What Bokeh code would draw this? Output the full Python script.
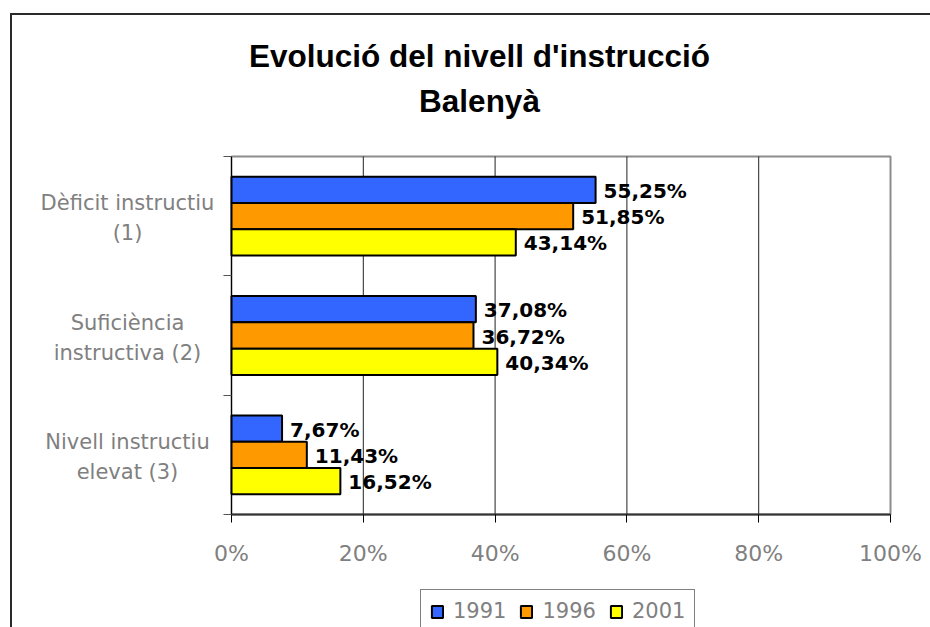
from bokeh.plotting import figure
from bokeh.models import (Range1d, LinearAxis, FixedTicker, BoxAnnotation,
                          ColumnDataSource, Label, LabelSet, Legend, LegendItem)
from bokeh.transform import dodge
from bokeh.core.properties import value
from bokeh.embed import file_html
from bokeh.resources import INLINE

# ---- data ----
categories = ["Dèficit instructiu\n(1)", "Suficiència\ninstructiva (2)", "Nivell instructiu\nelevat (3)"]
years = ["1991", "1996", "2001"]
v1991 = [55.25, 37.08, 7.67]
v1996 = [51.85, 36.72, 11.43]
v2001 = [43.14, 40.34, 16.52]
x_ticks = [0, 20, 40, 60, 80, 100]
title_lines = ["Evolució del nivell d'instrucció", "Balenyà"]

series = [v1991, v1996, v2001]
colors = ["#3366FF", "#FF9900", "#FFFF00"]
GRAY = "#808080"

# ---- layout (pixels) ----
W, H = 930, 627
PL, PR, PT, PB = 231, 890, 156, 514          # plot area edges
n = len(categories)
px_x = (PR - PL) / 100.0                      # px per percent
px_y = (PB - PT) / n                          # px per category band
x_range = Range1d(-PL / px_x, (W - PL) / px_x)
y_range = Range1d(-(H - PB) / px_y, n + PT / px_y)

cat_pos = [n - i - 0.5 for i in range(n)]     # band centres, first category on top
bar_h = 0.22
offsets = [bar_h, 0.0, -bar_h]

p = figure(width=W, height=H, x_range=x_range, y_range=y_range,
           x_axis_type=None, y_axis_type=None,
           output_backend="svg", toolbar_location=None,
           min_border=0, min_border_left=0, min_border_right=0,
           min_border_top=0, min_border_bottom=0,
           border_fill_color=None, background_fill_color=None,
           outline_line_color=None,
           styles={"box-shadow": "inset 10px 13px 0 0 #ffffff, inset 12px 15px 0 0 #2a2a2a"})

# plot-area box (top & right edges visible)
p.add_layout(BoxAnnotation(left=0, right=100, bottom=0, top=n,
                           fill_color="white", fill_alpha=1,
                           line_color="#8c8c8c", line_alpha=1, line_width=2,
                           level="underlay"))

# vertical gridlines inside the plot area
inner_ticks = x_ticks[1:-1]
p.segment(x0=inner_ticks, y0=[0] * len(inner_ticks), x1=inner_ticks, y1=[n] * len(inner_ticks),
          line_color="#222222", line_width=1)

# x axis
xax = LinearAxis(ticker=FixedTicker(ticks=x_ticks), fixed_location=0, bounds=(0, 100),
                 major_label_overrides={t: f"{t}%" for t in x_ticks},
                 major_label_text_font="DejaVu Sans", major_label_text_font_size="22px",
                 major_label_text_color=GRAY, major_label_standoff=18,
                 axis_line_color="#333333", axis_line_width=2,
                 major_tick_line_color="black", major_tick_out=8, major_tick_in=0,
                 minor_tick_line_color=None)
p.add_layout(xax, "below")

# y axis: ticks at band boundaries
yax = LinearAxis(ticker=FixedTicker(ticks=list(range(n + 1))), fixed_location=0, bounds=(0, n),
                 major_label_text_font_size="0px", major_label_text_alpha=0,
                 major_tick_out=8, major_tick_in=0, major_tick_line_color="#555555",
                 minor_tick_line_color=None,
                 axis_line_color="black", axis_line_width=1)
p.add_layout(yax, "left")

# category labels (two lines each, centred)
line1 = [c.split("\n")[0] for c in categories]
line2 = [c.split("\n")[1] for c in categories]
cat_src = ColumnDataSource(dict(pos=cat_pos, l1=line1, l2=line2))
for field, dy in (("l1", 13), ("l2", -17)):
    p.add_layout(LabelSet(x=0, y="pos", text=field, source=cat_src,
                          x_offset=-104, y_offset=dy, text_align="center", text_baseline="middle",
                          text_font=value("DejaVu Sans"), text_font_size=value("21px"),
                          text_color=GRAY))

# bars + value labels
items = []
for yr, vals, col, off in zip(years, series, colors, offsets):
    src = ColumnDataSource(dict(pos=cat_pos, val=vals,
                                lab=[f"{v:.2f}%".replace(".", ",") for v in vals]))
    r = p.hbar(y=dodge("pos", off), left=0, right="val", height=bar_h,
               source=src, fill_color=col, line_color="black", line_width=2)
    p.text(x="val", y=dodge("pos", off), text="lab", source=src,
           x_offset=8, y_offset=1, text_baseline="middle", text_align="left",
           text_font=value("DejaVu Sans"), text_font_style="bold",
           text_font_size="20px", text_color="black")
    items.append(LegendItem(label=yr, renderers=[r]))

# title
title_x = (479 - PL) / px_x
for line, cy in zip(title_lines, [55, 100]):
    p.add_layout(Label(x=title_x, y=(PB - cy) / px_y, text=line,
                       text_align="center", text_baseline="middle",
                       text_font="Liberation Sans", text_font_style="bold",
                       text_font_size="31.5px", text_color="black"))

legend = Legend(items=items, orientation="horizontal", location=(420, -6),
                glyph_width=14, glyph_height=15, label_standoff=9, spacing=13,
                padding=9, margin=0,
                label_text_font="DejaVu Sans", label_text_font_size="21px",
                label_text_color=GRAY,
                border_line_color="black", border_line_width=1,
                background_fill_color="white", background_fill_alpha=1)
p.add_layout(legend, "center")

open("out.html", "w").write(file_html(p, INLINE))
